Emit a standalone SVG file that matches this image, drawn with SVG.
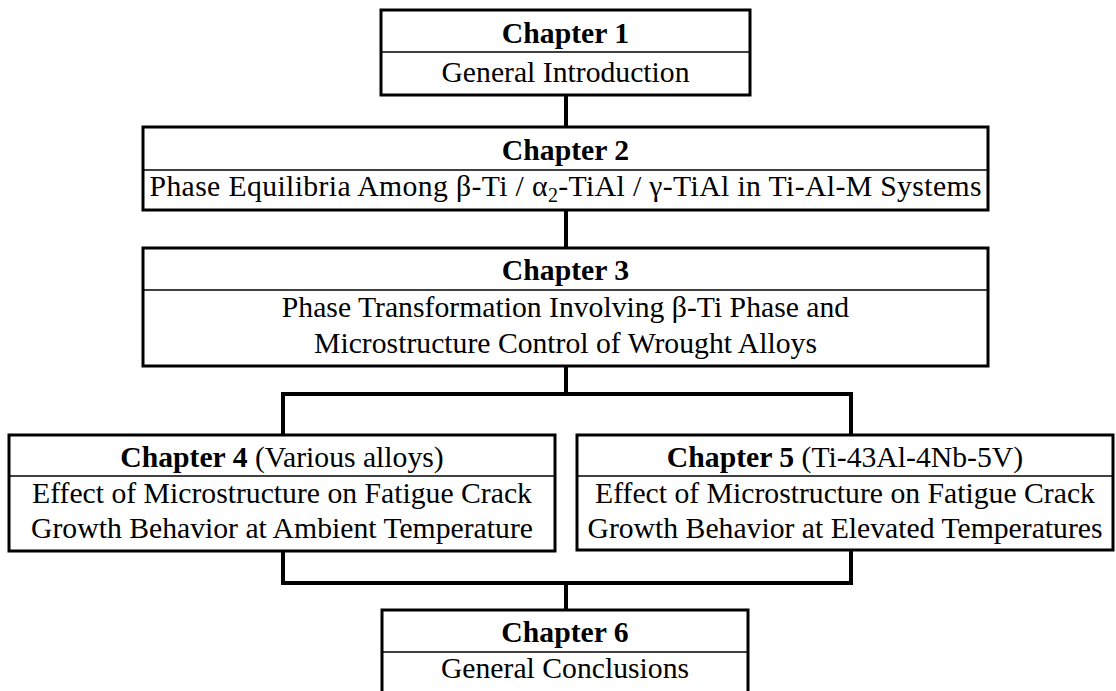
<svg xmlns="http://www.w3.org/2000/svg" width="1116" height="691" viewBox="0 0 1116 691">
<style>
.box{fill:#fff;stroke:#000;stroke-width:3}
.div{stroke:#000;stroke-width:1.6;fill:none}
.t{font-family:"Liberation Serif","Times New Roman",serif;font-size:29.7px;fill:#000;text-anchor:middle}
.b{font-weight:bold}
.con{stroke:#000;stroke-width:4;fill:none}
</style>
<rect width="1116" height="691" fill="#fff"/>
<g id="connectors">
<line class="con" x1="566" y1="95" x2="566" y2="127"/>
<line class="con" x1="566" y1="210" x2="566" y2="248"/>
<polyline class="con" points="566,366 566,394"/>
<polyline class="con" points="283,436 283,394 851,394 851,436"/>
<polyline class="con" points="283,551 283,583 851,583 851,550"/>
<line class="con" x1="566" y1="583" x2="566" y2="610"/>
</g>
<g id="ch1">
<rect class="box" x="381" y="10" width="369" height="85"/>
<line class="div" x1="381" y1="52" x2="750" y2="52"/>
<text class="t b" x="565.5" y="43">Chapter 1</text>
<text class="t" x="565.5" y="82">General Introduction</text>
</g>
<g id="ch2">
<rect class="box" x="143" y="127" width="845" height="83"/>
<line class="div" x1="143" y1="170" x2="988" y2="170"/>
<text class="t b" x="565.5" y="160">Chapter 2</text>
<text class="t" x="565.5" y="196" textLength="832" lengthAdjust="spacing">Phase Equilibria Among β-Ti / α<tspan font-size="20" dy="6">2</tspan><tspan dy="-6">-TiAl / γ-TiAl in Ti-Al-M Systems</tspan></text>
</g>
<g id="ch3">
<rect class="box" x="143" y="248" width="845" height="118"/>
<line class="div" x1="143" y1="290" x2="988" y2="290"/>
<text class="t b" x="565.5" y="280">Chapter 3</text>
<text class="t" x="565.5" y="317">Phase Transformation Involving β-Ti Phase and</text>
<text class="t" x="565.5" y="353">Microstructure Control of Wrought Alloys</text>
</g>
<g id="ch4">
<rect class="box" x="9" y="435" width="546" height="116"/>
<line class="div" x1="9" y1="476" x2="555" y2="476"/>
<text class="t" x="282" y="467"><tspan font-weight="bold">Chapter 4</tspan> (Various alloys)</text>
<text class="t" x="282" y="503">Effect of Microstructure on Fatigue Crack</text>
<text class="t" x="282" y="538">Growth Behavior at Ambient Temperature</text>
</g>
<g id="ch5">
<rect class="box" x="577" y="435" width="536" height="115"/>
<line class="div" x1="577" y1="476" x2="1113" y2="476"/>
<text class="t" x="845" y="467"><tspan font-weight="bold">Chapter 5</tspan> (Ti-43Al-4Nb-5V)</text>
<text class="t" x="845" y="503">Effect of Microstructure on Fatigue Crack</text>
<text class="t" x="845" y="538">Growth Behavior at Elevated Temperatures</text>
</g>
<g id="ch6">
<rect class="box" x="382" y="610" width="366" height="95"/>
<line class="div" x1="382" y1="652" x2="748" y2="652"/>
<text class="t b" x="565" y="642">Chapter 6</text>
<text class="t" x="565" y="678">General Conclusions</text>
</g>
</svg>
